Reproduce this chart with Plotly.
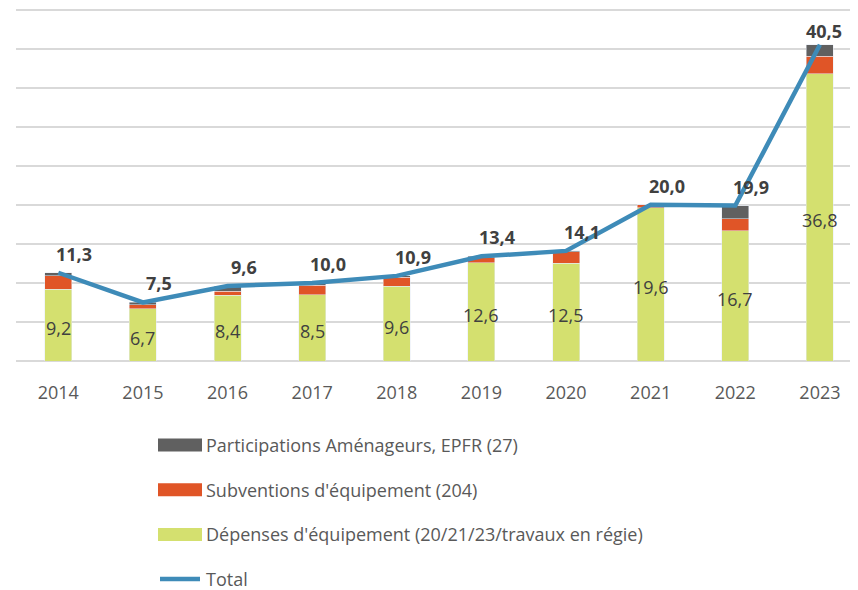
import plotly.graph_objects as go

years = ["2014", "2015", "2016", "2017", "2018", "2019", "2020", "2021", "2022", "2023"]
depenses = [9.2, 6.7, 8.4, 8.5, 9.6, 12.6, 12.5, 19.6, 16.7, 36.8]
subventions = [1.7, 0.5, 0.5, 1.2, 1.1, 0.6, 1.5, 0.4, 1.5, 2.2]
participations = [0.4, 0.3, 0.7, 0.3, 0.2, 0.2, 0.1, 0.0, 1.7, 1.5]
total = [11.3, 7.5, 9.6, 10.0, 10.9, 13.4, 14.1, 20.0, 19.9, 40.5]

names = {
    "part": "Participations Aménageurs, EPFR (27)",
    "sub": "Subventions d'équipement (204)",
    "dep": "Dépenses d'équipement (20/21/23/travaux en régie)",
    "tot": "Total",
}

C_GREEN = "#d4e06f"
C_RED = "#e05527"
C_GRAY = "#606060"
C_BLUE = "#3e8bb8"
C_TEXT = "#404040"
C_AXIS = "#595959"
FONT = "Open Sans"

# the page body adds an 8px offset; the figure is sized to fill the rest of the window
OFF = 8
W, H = 858 - OFF, 590 - OFF
ML, MR, MT, MB = 16 - OFF, 0, 0, 229
PW, PH = W - ML - MR, H - MT - MB


def fr(v):
    return f"{v:.1f}".replace(".", ",")


def px(xs):
    # screen x (reference pixels) -> paper fraction
    return (xs - OFF - ML) / PW


def py(ys):
    # screen y (reference pixels) -> paper fraction
    return (H - MB - (ys - OFF)) / PH


fig = go.Figure()
fig.add_trace(go.Bar(x=years, y=depenses, name=names["dep"], marker_color=C_GREEN, hoverinfo="skip"))
fig.add_trace(go.Bar(x=years, y=subventions, name=names["sub"], marker_color=C_RED, hoverinfo="skip"))
fig.add_trace(go.Bar(x=years, y=participations, name=names["part"], marker_color=C_GRAY, hoverinfo="skip"))
fig.add_trace(go.Scatter(x=years, y=total, name=names["tot"], mode="lines",
                         line=dict(color=C_BLUE, width=4.5), hoverinfo="skip"))

n = len(years)
for i, (g, t) in enumerate(zip(depenses, total)):
    fig.add_annotation(x=i, y=g / 2, text=fr(g), showarrow=False,
                       font=dict(family=FONT, size=18, color=C_TEXT), yshift=-3)
    fig.add_annotation(x=i, y=t, text="<b>" + fr(t) + "</b>", showarrow=False,
                       font=dict(family=FONT, size=18, color=C_TEXT),
                       xshift=16 if i < n - 1 else 4, yshift=19 if i < n - 1 else 14)

# manual legend (Excel-style wide swatches)
legend_items = [("part", C_GRAY, "rect"), ("sub", C_RED, "rect"),
                ("dep", C_GREEN, "rect"), ("tot", C_BLUE, "line")]
for k, (key, col, kind) in enumerate(legend_items):
    yc = 445 + k * 44.7
    if kind == "rect":
        fig.add_shape(type="rect", xref="paper", yref="paper",
                      x0=px(158), x1=px(202), y0=py(yc + 6.5), y1=py(yc - 6.5),
                      fillcolor=col, line_width=0)
    else:
        fig.add_shape(type="line", xref="paper", yref="paper",
                      x0=px(160), x1=px(200), y0=py(yc), y1=py(yc),
                      line=dict(color=col, width=4.5))
    fig.add_annotation(xref="paper", yref="paper", x=px(204), y=py(yc), text=names[key],
                       showarrow=False, xanchor="left", yanchor="middle",
                       font=dict(family=FONT, size=18, color=C_AXIS))

fig.update_layout(
    width=W, height=H,
    margin=dict(l=ML, r=MR, t=MT, b=MB, autoexpand=False),
    barmode="stack", bargap=0.68,
    plot_bgcolor="white", paper_bgcolor="white",
    font=dict(family=FONT, color=C_AXIS),
    showlegend=False,
    xaxis=dict(type="category", range=[-0.5, 9.45], showgrid=False, showline=False, ticks="",
               tickfont=dict(size=18, color=C_AXIS), fixedrange=True, tickangle=0,
               ticklabelstandoff=19),
    yaxis=dict(range=[0, 45.2], tickvals=list(range(0, 50, 5)), showticklabels=False,
               showgrid=True, gridcolor="#d9d9d9", gridwidth=1.5, zeroline=True,
               zerolinecolor="#d9d9d9", zerolinewidth=1.5, fixedrange=True),
)

fig.write_html("out.html")
